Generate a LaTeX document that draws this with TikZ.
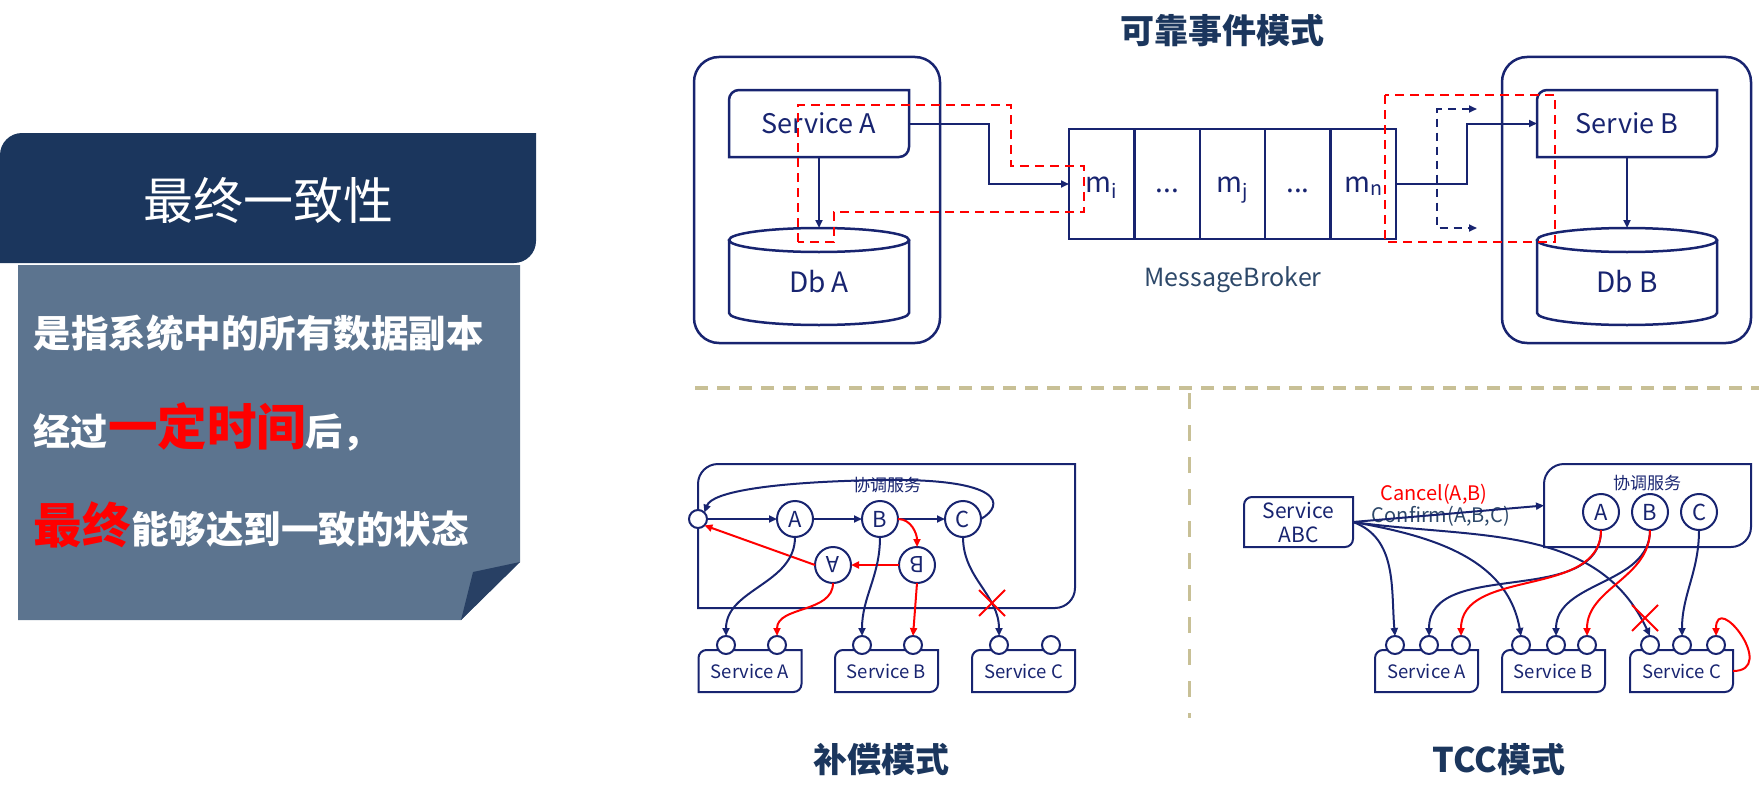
\documentclass[tikz,border=0pt]{standalone}
\usepackage{fontspec}
\setmainfont{Noto Sans CJK SC}
\usepackage{graphicx}
\usepackage{xcolor}
\usepackage{tikz}
\usetikzlibrary{positioning,arrows.meta,calc}

\definecolor{hdrblue}{RGB}{27,54,93}
\definecolor{panelblue}{RGB}{92,116,143}
\definecolor{folddark}{RGB}{40,64,100}
\definecolor{lnavy}{RGB}{24,36,112}
\definecolor{slate}{RGB}{45,72,105}
\definecolor{khaki}{RGB}{200,192,150}

% box with round top-left and bottom-right corners only
\newcommand\cornerbox[3]{%
  \path[#1] (#2.west) [rounded corners=#3] -- (#2.north west) -- (#2.north)
    [sharp corners] -- (#2.north east) -- (#2.east)
    [rounded corners=#3] -- (#2.south east) -- (#2.south)
    [sharp corners] -- (#2.south west) -- cycle;}
% database drum round a node
\newcommand\dbcyl[1]{%
  \draw[draw=lnavy, line width=2.5pt] ([yshift=-12pt]#1.north west) -- ([yshift=-85pt]#1.north west)
    arc[start angle=180, end angle=360, x radius=90pt, y radius=12pt] -- ([yshift=-12pt]#1.north east);
  \draw[draw=lnavy, line width=2.5pt] ([yshift=-12pt]#1.north) ellipse[x radius=90pt, y radius=12pt];}

\begin{document}
\begin{tikzpicture}[x=1pt, y=1pt,
  every node/.style={inner sep=0pt, outer sep=0pt},
  fs/.style={font=\fontsize{#1}{#1}\selectfont},
  lbl/.style={text=lnavy, fs=#1},
  heading/.style={text=hdrblue, font=\fontsize{34}{34}\selectfont\bfseries},
  cont/.style={draw=lnavy, line width=2.5pt, rounded corners=25pt, minimum width=#1, minimum height=286pt},
  svcbox/.style={minimum width=180pt, minimum height=67pt, lbl=27},
  dbnode/.style={minimum width=180pt, minimum height=108pt, lbl=28},
  cell/.style={draw=lnavy, line width=2.5pt, minimum width=65.4pt, minimum height=110pt, lbl=28, text height=18pt, text depth=2pt},
  flow/.style={draw=lnavy, line width=2pt, -{Triangle[length=8pt,width=7pt]}},
  undo/.style={draw=red, line width=2pt, -{Triangle[length=8pt,width=7pt]}},
  trace/.style={draw=red, line width=2.5pt, dash pattern=on 9pt off 6pt},
  fanout/.style={draw=lnavy, line width=2.5pt, dash pattern=on 8pt off 6pt, {Triangle[length=8pt,width=7pt]}-{Triangle[length=8pt,width=7pt]}},
  state/.style={circle, draw=lnavy, fill=white, line width=2pt, minimum size=36pt, lbl=22},
  port/.style={circle, draw=lnavy, fill=white, line width=2pt, minimum size=18pt},
  smallsvc/.style={minimum width=103pt, minimum height=42pt, lbl=18.5},
  cross/.style={draw=red, line width=2pt},
  sep/.style={draw=khaki, line width=4pt, dash pattern=on 13pt off 9pt}]
  \useasboundingbox (0,0) rectangle (1759,-800);

  % left panel
  \node[minimum width=536pt, minimum height=130pt] (hdr) at (268,-198) {};
  \cornerbox{fill=hdrblue}{hdr}{22pt}
  \node[text=white, fs=50] (hdrtext) at (268,-200) {最终一致性};
  \fill[panelblue] (18,-265) -- (520,-265) -- (520,-562) -- (461,-620) -- (18,-620) -- cycle;
  \fill[folddark] (520,-562) -- (473,-572) -- (461,-620) -- cycle;
  \node[anchor=base west, text=white, font=\fontsize{37.5}{40}\selectfont\bfseries] (line1) at (34,-347) {是指系统中的所有数据副本};
  \node[anchor=base west, text=white, font=\fontsize{37}{40}\selectfont\bfseries] (line2) at (34,-445)
    {经过{\color{red}\fontsize{49.5}{52}\selectfont 一定时间}后，};
  \node[anchor=base west, text=white, font=\fontsize{37.5}{40}\selectfont\bfseries] (line3) at (34,-543)
    {{\color{red}\fontsize{48.5}{52}\selectfont 最终}能够达到一致的状态};

  % reliable event pattern
  \node[heading] (toptitle) at (1222,-31) {可靠事件模式};
  \node[cont=246pt] (contA) at (817,-200) {};
  \node[cont=249pt] (contB) at (1626.5,-200) {};
  \node[svcbox] (svcA) at (819,-123.5) {Service A};
  \cornerbox{draw=lnavy, line width=2.5pt}{svcA}{10pt}
  \node[dbnode] (dbA) at (819,-282) {Db A};
  \dbcyl{dbA}
  \node[svcbox] (svcB) at (1627,-123.5) {Servie B};
  \cornerbox{draw=lnavy, line width=2.5pt}{svcB}{10pt}
  \node[dbnode] (dbB) at (1627,-282) {Db B};
  \dbcyl{dbB}
  \node[cell] (mi) at (1101.7,-184) {m\textsubscript{i}};
  \node[cell, right=0pt of mi] (gap1) {...};
  \node[cell, right=0pt of gap1] (mj) {m\textsubscript{j}};
  \node[cell, right=0pt of mj] (gap2) {...};
  \node[cell, right=0pt of gap2] (mn) {m\textsubscript{n}};
  \node[text=slate, fs=25] (broker) at (1233,-280) {MessageBroker};
  \draw[flow] (svcA.south) -- (dbA.north);
  \draw[flow] (svcB.south) -- (dbB.north);
  \draw[flow] (svcA.east) -- ++(80,0) |- (mi.west);
  \draw[flow] (mn.east) -- ++(71,0) |- (svcB.west);
  \coordinate (fanA) at (1477,-109);
  \coordinate (fanB) at (1477,-228);
  \draw[fanout] (fanA) -- ++(-40,0) |- (fanB);
  \draw[trace] (798,-242) -- (798,-105) -- (1011,-105) -- (1011,-166) -- (1084,-166)
    -- (1084,-212) -- (834,-212) -- (834,-242) -- cycle;
  \draw[trace] (1385,-95) rectangle (1555,-242);

  % separators
  \draw[sep] (695,-388) -- (1759,-388);
  \draw[sep, line width=3pt, dash pattern=on 16pt off 16pt] (1189,-393) -- (1189,-718);

  % compensation pattern
  \node[heading] (comptitle) at (881,-760) {补偿模式};
  \node[minimum width=377pt, minimum height=144pt] (cbox) at (886.5,-536) {};
  \cornerbox{draw=lnavy, line width=2pt}{cbox}{20pt}
  \node[lbl=17] (cboxlbl) at (887,-485) {协调服务};
  \node[port] (s0) at (698,-519) {};
  \node[state] (cA) at (795,-519) {A};
  \node[state] (cB) at (880,-519) {B};
  \node[state] (cC) at (963,-519) {C};
  \node[state] (rA) at (833,-565) {\rotatebox{180}{A}};
  \node[state] (rB) at (917,-565) {\rotatebox{180}{B}};
  \foreach \n/\x/\t in {sA/750/A, sB/886.5/B, sC/1023.5/C} {
    \node[smallsvc] (\n) at (\x,-671) {Service \t};
    \cornerbox{draw=lnavy, line width=2pt}{\n}{8pt}
  }
  \foreach \n/\x in {pA1/726, pA2/777, pB1/862, pB2/913, pC1/999, pC2/1051}
    \node[port] (\n) at (\x,-645) {};
  \draw[flow] (s0) -- (cA);
  \draw[flow] (cA) -- (cB);
  \draw[flow] (cB) -- (cC);
  \draw[flow] (cC.east) .. controls (1005,-505) and (1005,-478) .. (880,-480)
    .. controls (770,-482) and (712,-492) .. (s0.north east);
  \draw[undo] (cB.east) to[out=0, in=90] (rB.north);
  \draw[undo] (rB) -- (rA);
  \draw[undo] (rA.west) -- (s0.south east);
  \draw[flow] (cA.south) to[out=-90, in=90] (pA1.north);
  \draw[flow] (cB.south) to[out=-90, in=90] (pB1.north);
  \draw[flow] (cC.south) to[out=-90, in=90] (pC1.north);
  \draw[undo] (rA.south) to[out=-90, in=90] (pA2.north);
  \draw[undo] (rB.south) -- (pB2.north);
  \coordinate (cxc) at (992,-603);
  \draw[cross] (cxc) ++(-13,-13) -- ++(26,26) (cxc) ++(-13,13) -- ++(26,-26);

  % TCC pattern
  \node[heading] (tcctitle) at (1499,-760) {TCC模式};
  \node[minimum width=109pt, minimum height=50pt, text=lnavy, align=center,
    font=\fontsize{21}{24}\selectfont] (abc) at (1298.5,-522) {Service\\ABC};
  \cornerbox{draw=lnavy, line width=2pt}{abc}{8pt}
  \node[minimum width=207pt, minimum height=83pt] (tbox) at (1647.5,-505.5) {};
  \cornerbox{draw=lnavy, line width=2pt}{tbox}{20pt}
  \node[lbl=17] (tboxlbl) at (1647,-483) {协调服务};
  \node[state] (tA) at (1601,-512) {A};
  \node[state] (tB) at (1650,-512) {B};
  \node[state] (tC) at (1699,-512) {C};
  \foreach \n/\x/\t in {tsA/1426.5/A, tsB/1553.5/B, tsC/1681.5/C} {
    \node[smallsvc] (\n) at (\x,-671) {Service \t};
    \cornerbox{draw=lnavy, line width=2pt}{\n}{8pt}
  }
  \foreach \n/\x in {qA1/1395, qA2/1429, qA3/1461, qB1/1521, qB2/1556, qB3/1587,
    qC1/1650, qC2/1682, qC3/1716}
    \node[port] (\n) at (\x,-645) {};
  \node[text=red, fs=20] (cancel) at (1434,-494) {Cancel(A,B)};
  \node[text=slate, fs=20] (confirm) at (1441,-516) {Confirm(A,B,C)};
  \draw[flow] (abc.east) -- (tbox.west);
  \draw[flow] (abc.east) to[out=-20, in=95] (qA1.north);
  \draw[flow] (abc.east) to[out=-10, in=100] (qB1.north);
  \draw[flow] (abc.east) to[out=-8, in=115] (qC1.north);
  \draw[flow] (tA.south) to[out=-90, in=90] (qA2.north);
  \draw[undo] (tA.south) to[out=-90, in=90] (qA3.north);
  \draw[flow] (tB.south) to[out=-90, in=90] (qB2.north);
  \draw[undo] (tB.south) to[out=-90, in=90] (qB3.north);
  \draw[flow] (tC.south) to[out=-90, in=90] (qC2.north);
  \draw[undo] (tsC.east) to[out=0, in=90, looseness=3] (qC3.north);
  \coordinate (txc) at (1645,-618);
  \draw[cross] (txc) ++(-13,-13) -- ++(26,26) (txc) ++(-13,13) -- ++(26,-26);
\end{tikzpicture}
\end{document}
